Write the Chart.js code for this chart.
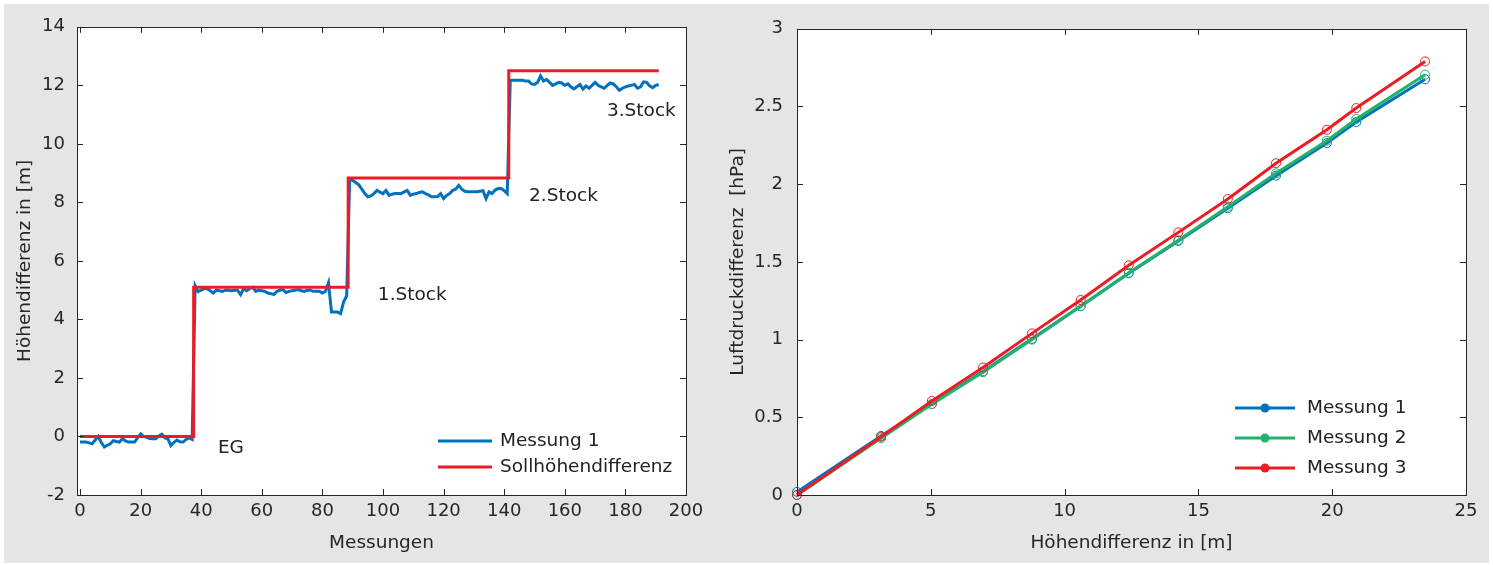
<!DOCTYPE html>
<html>
<head>
<meta charset="utf-8">
<script src="https://cdn.jsdelivr.net/npm/chart.js@4"></script>
<style>
  html, body { margin: 0; padding: 0; background: #fff; }
  #fig { position: absolute; left: 4px; top: 4px; width: 1485px; height: 559px; background: #e5e5e5; }
  canvas { position: absolute; top: 4px; }
  #links { left: 4px; }
  #rechts { left: 715px; }
</style>
</head>
<body>
<div id="fig"></div>
<canvas id="links" width="711" height="559"></canvas>
<canvas id="rechts" width="774" height="559"></canvas>
<script>
// linke Grafik: gemessene Hoehendifferenz je Messung
const messung1 = [
  -0.19, -0.19, -0.19, -0.22, -0.25, -0.12, 0.0, -0.2, -0.36, -0.3,
  -0.25, -0.14, -0.17, -0.19, -0.08, -0.15, -0.19, -0.19, -0.19, -0.05,
  0.09, 0.0, -0.03, -0.07, -0.08, -0.08, 0.02, 0.08, -0.05, -0.08,
  -0.31, -0.2, -0.12, -0.18, -0.19, -0.1, -0.05, -0.1,
  5.15, 4.95, 5.0, 5.05, 5.05, 4.98, 4.9, 5.0, 4.98, 4.96,
  5.0, 5.0, 4.98, 5.0, 5.0, 4.85, 5.05, 4.98, 5.05, 5.1,
  4.96, 5.0, 4.98, 4.96, 4.9, 4.88, 4.85, 4.96, 5.0, 5.02,
  4.92, 4.96, 4.98, 5.0, 5.02, 4.98, 4.96, 5.0, 5.0, 4.96,
  4.96, 4.96, 4.9, 4.96, 5.25, 4.25, 4.25, 4.25, 4.2, 4.6, 4.8,
  8.8, 8.75, 8.68, 8.6, 8.45, 8.3, 8.19, 8.22, 8.3, 8.41,
  8.35, 8.3, 8.41, 8.24, 8.28, 8.3, 8.3, 8.3, 8.36, 8.41,
  8.24, 8.28, 8.3, 8.34, 8.36, 8.3, 8.26, 8.19, 8.19, 8.2,
  8.3, 8.13, 8.24, 8.3, 8.41, 8.45, 8.58, 8.45, 8.38, 8.36,
  8.36, 8.36, 8.36, 8.38, 8.4, 8.13, 8.36, 8.3, 8.42, 8.47,
  8.47, 8.4, 8.3,
  12.17, 12.17, 12.17, 12.17, 12.17, 12.15, 12.15, 12.05, 12.03, 12.1,
  12.32, 12.15, 12.2, 12.1, 12.0, 12.05, 12.1, 12.08, 12.0, 12.05,
  11.95, 11.88, 11.95, 12.03, 11.87, 11.98, 11.9, 12.0, 12.1, 12.0,
  11.95, 11.9, 12.0, 12.08, 12.05, 11.95, 11.83, 11.9, 11.95, 11.98,
  12.0, 12.03, 11.9, 11.95, 12.12, 12.1, 11.98, 11.92, 12.0, 12.03
];
const sollX = [0, 37.5, 37.5, 88.5, 88.5, 141.5, 141.5, 191];
const sollY = [0, 0, 5.1, 5.1, 8.83, 8.83, 12.5, 12.5];
const xTicksLinks = [0, 20, 40, 60, 80, 100, 120, 140, 160, 180, 200];
const yTicksLinks = [-2, 0, 2, 4, 6, 8, 10, 12, 14];
const stockText = ['EG', '1.Stock', '2.Stock', '3.Stock'];
const stockX = [45.5, 98.3, 148.2, 173.9];
const stockY = [-0.41, 4.82, 8.22, 11.1];

// rechte Grafik: Luftdruckdifferenz ueber Hoehendifferenz
const hoehe = [0, 3.14, 5.04, 6.95, 8.78, 10.6, 12.4, 14.25, 16.1, 17.9, 19.8, 20.9, 23.47];
const luft1 = [0.02, 0.38, 0.585, 0.795, 1.005, 1.215, 1.427, 1.635, 1.845, 2.055, 2.265, 2.4, 2.675];
const luft2 = [0.0, 0.365, 0.585, 0.79, 1.0, 1.215, 1.43, 1.64, 1.855, 2.07, 2.28, 2.42, 2.705];
const luft3 = [0.0, 0.375, 0.605, 0.82, 1.04, 1.255, 1.478, 1.69, 1.905, 2.135, 2.35, 2.49, 2.79];
const xTicksRechts = [0, 5, 10, 15, 20, 25];
const yTicksRechts = [0, 0.5, 1, 1.5, 2, 2.5, 3];

const BLAU = '#0072BD', ROT = '#ED1C24', GRUEN = '#22B26A';
const TEXT = '#262626';
const FONT = '"DejaVu Sans", sans-serif';

Chart.defaults.font.family = FONT;
Chart.defaults.font.size = 18;
Chart.defaults.color = TEXT;

// weisse Flaeche, Rahmen, Ticks nach innen, Texte und Legende
const rahmen = {
  id: 'rahmen',
  beforeDraw(chart) {
    const { ctx, chartArea: a } = chart;
    ctx.save();
    ctx.fillStyle = '#fff';
    ctx.fillRect(a.left, a.top, a.right - a.left, a.bottom - a.top);
    ctx.restore();
  },
  afterDatasetsDraw(chart, args, opts) {
    const { ctx, chartArea: a, scales: { x, y } } = chart;
    ctx.save();
    ctx.strokeStyle = TEXT;
    ctx.lineWidth = 1;
    ctx.beginPath();
    x.ticks.forEach(t => {
      const px = Math.round(x.getPixelForValue(t.value)) + 0.5;
      ctx.moveTo(px, a.bottom); ctx.lineTo(px, a.bottom - 6);
      ctx.moveTo(px, a.top); ctx.lineTo(px, a.top + 6);
    });
    y.ticks.forEach(t => {
      const py = Math.round(y.getPixelForValue(t.value)) + 0.5;
      ctx.moveTo(a.left, py); ctx.lineTo(a.left + 6, py);
      ctx.moveTo(a.right, py); ctx.lineTo(a.right - 6, py);
    });
    ctx.stroke();
    ctx.strokeRect(Math.round(a.left) + 0.5, Math.round(a.top) + 0.5,
      Math.round(a.right - a.left), Math.round(a.bottom - a.top));

    ctx.fillStyle = '#222';
    ctx.font = '18.5px ' + FONT;
    ctx.textBaseline = 'middle';
    ctx.textAlign = 'left';
    (opts.texte || []).forEach(t => {
      ctx.fillText(t.text, x.getPixelForValue(t.x), y.getPixelForValue(t.y));
    });

    const lg = opts.legende;
    if (lg) {
      lg.items.forEach((it, i) => {
        const x0 = a.right - lg.dx;
        const yy = a.bottom - lg.dy + i * lg.step;
        ctx.strokeStyle = it.color;
        ctx.lineWidth = 3;
        ctx.beginPath();
        ctx.moveTo(x0, yy); ctx.lineTo(x0 + lg.len, yy);
        ctx.stroke();
        if (lg.punkt) {
          ctx.fillStyle = it.color;
          ctx.beginPath();
          ctx.arc(x0 + lg.len / 2, yy, 4.5, 0, Math.PI * 2);
          ctx.fill();
        }
        ctx.fillStyle = '#222';
        ctx.fillText(it.text, x0 + lg.textDx, yy);
      });
    }
    ctx.restore();
  }
};

function achse(min, max, ticks, fixSize, horizontal, titel, pad, titelPad) {
  return {
    type: 'linear', min, max,
    afterBuildTicks: s => { s.ticks = ticks.map(v => ({ value: v })); },
    afterFit: s => { if (horizontal) s.height = fixSize; else s.width = fixSize; },
    grid: { display: false, drawTicks: false },
    border: { display: false },
    ticks: { padding: pad, color: TEXT, font: { size: 18 }, autoSkip: false, maxRotation: 0, callback: v => String(v) },
    title: { display: true, text: titel, color: TEXT, font: { size: 18.5 }, padding: titelPad }
  };
}

new Chart(document.getElementById('links'), {
  type: 'line',
  data: {
    datasets: [
      {
        label: 'Sollhöhendifferenz',
        data: sollX.map((v, i) => ({ x: v, y: sollY[i] })),
        borderColor: ROT, borderWidth: 3, pointRadius: 0, tension: 0, order: 0
      },
      {
        label: 'Messung 1',
        data: messung1.map((v, i) => ({ x: i, y: v })),
        borderColor: BLAU, borderWidth: 3, pointRadius: 0, tension: 0, order: 1
      }
    ]
  },
  options: {
    responsive: false, animation: false, devicePixelRatio: 1,
    layout: { padding: { left: 0, top: 20, right: 29, bottom: 0 } },
    scales: {
      x: achse(-1, 200, xTicksLinks, 68, true, 'Messungen', 6, { top: 0, bottom: 9 }),
      y: achse(-2, 14, yTicksLinks, 73, false, 'Höhendifferenz in [m]', 12, { top: 10, bottom: 0 })
    },
    plugins: {
      legend: { display: false },
      tooltip: { enabled: false },
      rahmen: {
        texte: stockText.map((t, i) => ({ text: t, x: stockX[i], y: stockY[i] })),
        legende: {
          dx: 248, dy: 54, step: 26, len: 54, textDx: 62, punkt: false,
          items: [{ text: 'Messung 1', color: BLAU }, { text: 'Sollhöhendifferenz', color: ROT }]
        }
      }
    }
  },
  plugins: [rahmen]
});

function reihe(label, werte, farbe, order) {
  return {
    label,
    data: hoehe.map((h, i) => ({ x: h, y: werte[i] })),
    borderColor: farbe, borderWidth: 3, tension: 0, order,
    pointStyle: 'circle', pointRadius: 4.5, pointBorderWidth: 1,
    pointBorderColor: farbe, pointBackgroundColor: 'rgba(0,0,0,0)',
    clip: false
  };
}

new Chart(document.getElementById('rechts'), {
  type: 'line',
  data: {
    datasets: [
      reihe('Messung 1', luft1, BLAU, 2),
      reihe('Messung 2', luft2, GRUEN, 1),
      reihe('Messung 3', luft3, ROT, 0)
    ]
  },
  options: {
    responsive: false, animation: false, devicePixelRatio: 1,
    layout: { padding: { left: 0, top: 20, right: 23, bottom: 0 } },
    scales: {
      x: achse(0, 25, xTicksRechts, 68, true, 'Höhendifferenz in [m]', 6, { top: 0, bottom: 9 }),
      y: achse(0, 3, yTicksRechts, 82, false, 'Luftdruckdifferenz  [hPa]', 14, { top: 12, bottom: 0 })
    },
    plugins: {
      legend: { display: false },
      tooltip: { enabled: false },
      rahmen: {
        legende: {
          dx: 231, dy: 87, step: 30, len: 60, textDx: 72, punkt: true,
          items: [
            { text: 'Messung 1', color: BLAU },
            { text: 'Messung 2', color: GRUEN },
            { text: 'Messung 3', color: ROT }
          ]
        }
      }
    }
  },
  plugins: [rahmen]
});
</script>
</body>
</html>
